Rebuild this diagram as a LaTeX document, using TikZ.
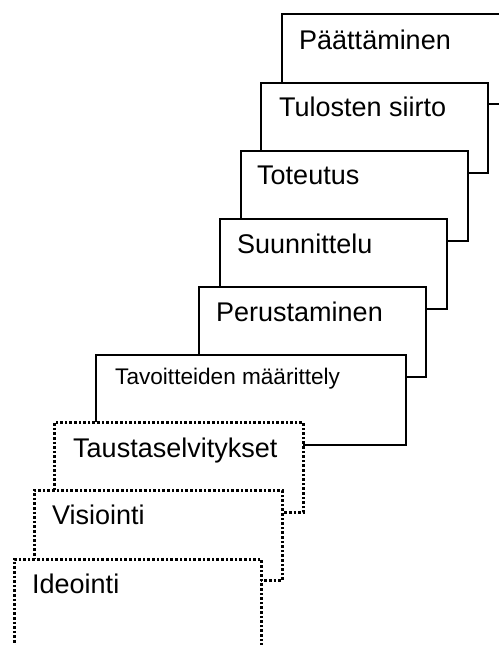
\documentclass[tikz,border=0pt]{standalone}
\usepackage{fontspec}
\setmainfont{Liberation Sans}
\usetikzlibrary{calc}
\tikzset{
  stage/.style={draw=black, fill=white, line width=2bp, anchor=north west,
    inner sep=0pt, minimum height=90bp},
  dotstage/.style={stage, line width=2.6bp, dash pattern=on 2.6bp off 2.0bp},
  lbl/.style={anchor=base west, inner sep=0pt, font=\fontsize{27bp}{30bp}\selectfont},
  lblsmall/.style={lbl, font=\fontsize{22.6bp}{25bp}\selectfont}
}
\begin{document}
\begin{tikzpicture}[x=1bp, y=-1bp]
\useasboundingbox (0,0) rectangle (499,645);
\clip (0,0) rectangle (499,645);
% solid stages, back to front
\node[stage, minimum width=227bp] (b9) at (281,13) {};
\node[lbl] (t9) at ($(b9.north west)+(18,37)$) {Päättäminen};
\node[stage, minimum width=227bp] (b8) at (260,82) {};
\node[lbl] (t8) at ($(b8.north west)+(19,35)$) {Tulosten siirto};
\node[stage, minimum width=227bp] (b7) at (240,150) {};
\node[lbl] (t7) at ($(b7.north west)+(17,35)$) {Toteutus};
\node[stage, minimum width=227bp] (b6) at (219,218) {};
\node[lbl] (t6) at ($(b6.north west)+(18,35)$) {Suunnittelu};
\node[stage, minimum width=227bp] (b5) at (198,286) {};
\node[lbl] (t5) at ($(b5.north west)+(18,35)$) {Perustaminen};
\node[stage, minimum width=310bp] (b4) at (95,354) {};
\node[lblsmall] (t4) at ($(b4.north west)+(20,30)$) {Tavoitteiden määrittely};
% dotted stages
\node[dotstage, minimum width=249bp] (b3) at (53,421) {};
\node[lbl] (t3) at ($(b3.north west)+(20,36)$) {Taustaselvitykset};
\node[dotstage, minimum width=248bp] (b2) at (33,489) {};
\node[lbl] (t2) at ($(b2.north west)+(19,35)$) {Visiointi};
\node[dotstage, minimum width=247bp, minimum height=120bp] (b1) at (13,558) {};
\node[lbl] (t1) at ($(b1.north west)+(19,35)$) {Ideointi};
\end{tikzpicture}
\end{document}
